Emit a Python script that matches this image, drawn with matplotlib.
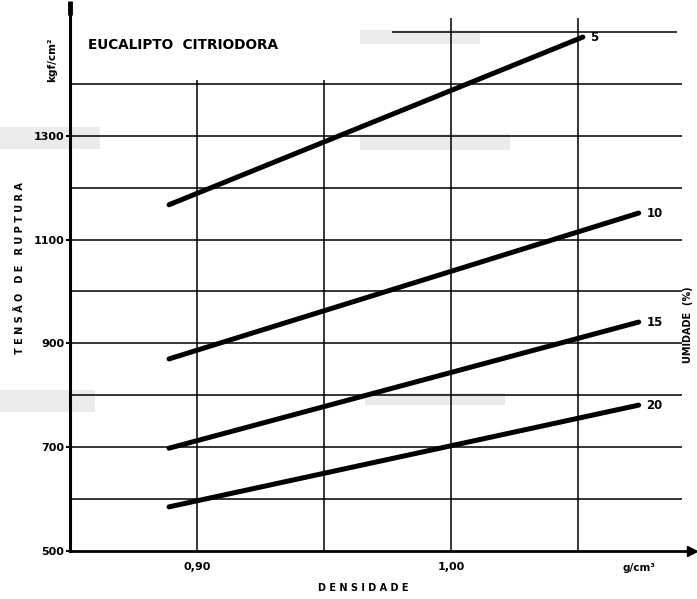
import matplotlib.pyplot as plt
from matplotlib.patches import Rectangle

# Eucalipto citriodora - tensao de ruptura x densidade, por umidade
umidade = ['5', '10', '15', '20']
dens_inicio = [0.889, 0.889, 0.889, 0.889]
dens_fim = [1.052, 1.074, 1.074, 1.074]
tensao_inicio = [1167, 870, 698, 585]
tensao_fim = [1490, 1151, 941, 781]

y_ticks = [500, 700, 900, 1100, 1300]
x_ticks = [0.90, 1.00]
x_tick_labels = ['0,90', '1,00']

grid_y = [600, 700, 800, 900, 1000, 1100, 1200, 1300, 1400]
grid_x_low = [0.90, 0.95]
grid_x_high = [1.00, 1.05]

plt.rcParams['font.family'] = 'DejaVu Sans'
plt.rcParams['font.weight'] = 'bold'

fig = plt.figure(figsize=(6.97, 5.99), dpi=100)
ax = fig.add_axes([70 / 697, 48 / 599, 622 / 697, 543 / 599])
ax.set_xlim(0.85, 1.095)
ax.set_ylim(500, 1546)
ax.patch.set_alpha(0)

# grid as drawn on the original sheet
ax.hlines(grid_y, 0.85, 1.091, color='black', linewidth=1.1, zorder=1)
ax.hlines([1500], 0.977, 1.089, color='black', linewidth=1.1, zorder=1)
ax.vlines(grid_x_low, 500, 1407, color='black', linewidth=1.1, zorder=1)
ax.vlines(grid_x_high, 500, 1527, color='black', linewidth=1.1, zorder=1)

# scanner smudges
smudges = [(0, 127, 100, 22), (360, 134, 150, 16), (0, 390, 95, 22), (365, 393, 140, 12), (360, 30, 120, 14)]
for sx, sy, sw, sh in smudges:
    fig.patches.append(Rectangle((sx / 697, 1 - (sy + sh) / 599), sw / 697, sh / 599,
                                 transform=fig.transFigure, facecolor='#d8d8d8',
                                 alpha=0.5, edgecolor='none', zorder=-5))

for lab, x0, x1, y0, y1 in zip(umidade, dens_inicio, dens_fim, tensao_inicio, tensao_fim):
    ax.plot([x0, x1], [y0, y1], color='black', linewidth=3.6, solid_capstyle='round', zorder=3)
    ax.text(x1 + 0.003, y1, lab, fontsize=8.5, fontweight='heavy', va='center', ha='left')

for s in ['top', 'right']:
    ax.spines[s].set_visible(False)
ax.spines['left'].set_linewidth(2.2)
ax.spines['bottom'].set_linewidth(2.0)
ax.plot(1.0, 0, '>', color='black', markersize=7, transform=ax.transAxes, clip_on=False)
ax.plot(0, 1.0, '|', color='black', markersize=10, markeredgewidth=3.5,
        transform=ax.transAxes, clip_on=False)

ax.set_yticks(y_ticks)
ax.set_yticklabels([str(v) for v in y_ticks], fontsize=8, fontweight='heavy')
ax.set_xticks(x_ticks)
ax.set_xticklabels(x_tick_labels, fontsize=8, fontweight='heavy')
ax.tick_params(axis='y', length=3, width=1.5, pad=1)
ax.tick_params(axis='x', length=0, pad=8)

ax.text(1.074, 500 - 33, 'g/cm³', fontsize=7.5, fontweight='heavy', ha='center', va='center')
fig.text(363 / 697, 1 - 588 / 599, 'D E N S I D A D E', fontsize=7, fontweight='heavy', ha='center', va='center')
fig.text(20 / 697, 1 - 268 / 599, 'T E N S Ã O   D E   R U P T U R A', fontsize=7, fontweight='heavy',
         rotation=90, ha='center', va='center')
fig.text(52 / 697, 1 - 60 / 599, 'kgf/cm²', fontsize=7.5, fontweight='heavy',
         rotation=90, ha='center', va='center')
fig.text(88 / 697, 1 - 45 / 599, 'EUCALIPTO  CITRIODORA', fontsize=9.8, fontweight='heavy',
         ha='left', va='center')
fig.text(688 / 697, 1 - 325 / 599, 'UMIDADE  (%)', fontsize=7, fontweight='heavy',
         rotation=90, ha='center', va='center')

fig.savefig('out.png', dpi=100, facecolor='white')
